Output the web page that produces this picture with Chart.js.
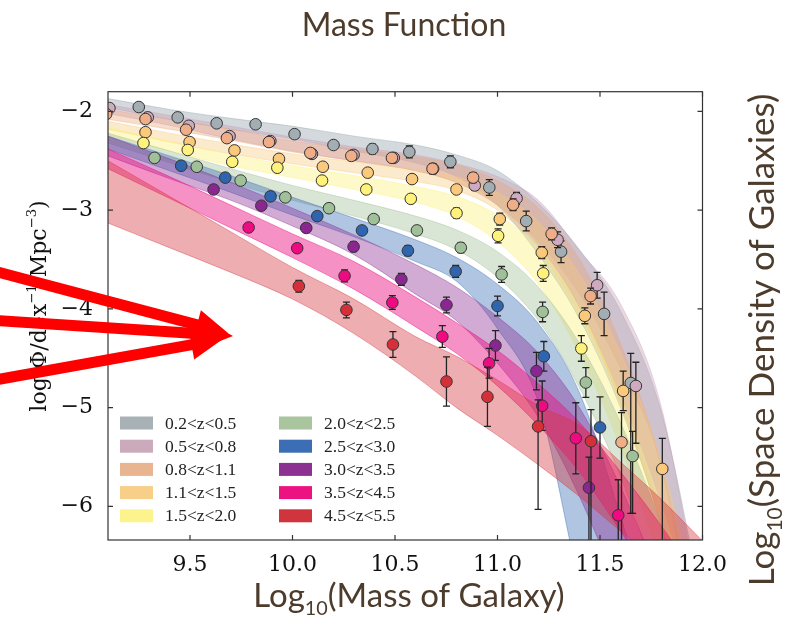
<!DOCTYPE html>
<html>
<head>
<meta charset="utf-8">
<style>
  html, body { margin: 0; padding: 0; background: #fff; }
</style>
</head>
<body>
<div style="position: relative; width:800px; height:618px">
  <canvas id="myChart" width="800" height="618"></canvas>
</div>

<script src="https://cdn.jsdelivr.net/npm/chart.js"></script>

<script>
// redshift bins, in legend order
const seriesLabels = ['0.2<z<0.5', '0.5<z<0.8', '0.8<z<1.1', '1.1<z<1.5', '1.5<z<2.0',
                      '2.0<z<2.5', '2.5<z<3.0', '3.0<z<3.5', '3.5<z<4.5', '4.5<z<5.5'];
const pointColors = ['#a3aeb4', '#d0aac0', '#efae88', '#fbc97c', '#fff27a',
                     '#9fc098', '#2f64ae', '#8b2592', '#ee0a80', '#d5303a'];
const bandColors = ['rgba(150,165,172,0.42)', 'rgba(200,160,185,0.4)', 'rgba(232,165,120,0.38)',
                    'rgba(248,200,120,0.38)', 'rgba(253,240,120,0.4)', 'rgba(160,190,150,0.4)',
                    'rgba(58,109,179,0.4)', 'rgba(140,45,147,0.4)', 'rgba(236,10,128,0.45)',
                    'rgba(212,50,58,0.4)'];
const legendColors = ['#a8b1b6', '#cbaabb', '#e9b490', '#f8cf88', '#fdf38c',
                      '#a8c59d', '#3b6eb4', '#8c3192', '#ec1282', '#d0343c'];

const xTickVals = [9.5, 10.0, 10.5, 11.0, 11.5, 12.0];
const yTickVals = [-6, -5, -4, -3, -2];

// model bands (upper / lower edge) sampled at these masses
const bandMass = [9.1, 9.4, 9.7, 10.0, 10.3, 10.6, 10.8, 11.0, 11.2, 11.4, 11.6, 11.8, 12.0];
const bandHi = [
  [-1.87, -1.98, -2.07, -2.15, -2.25, -2.34, -2.44, -2.60, -2.93, -3.40, -4.02, -5.05, -7.0],
  [-1.93, -2.04, -2.15, -2.26, -2.36, -2.44, -2.53, -2.66, -2.90, -3.41, -3.95, -5.00, -7.2],
  [-1.98, -2.08, -2.18, -2.30, -2.38, -2.46, -2.54, -2.70, -2.98, -3.50, -4.35, -5.60, -7.5],
  [-2.10, -2.22, -2.33, -2.43, -2.51, -2.59, -2.66, -2.82, -3.12, -3.65, -4.45, -5.55, -7.2],
  [-2.16, -2.30, -2.44, -2.55, -2.65, -2.76, -2.86, -3.05, -3.38, -4.00, -4.90, -6.00, -7.4],
  [-2.22, -2.40, -2.58, -2.75, -2.90, -3.06, -3.20, -3.42, -3.78, -4.35, -5.15, -6.20, -7.5],
  [-2.25, -2.45, -2.65, -2.87, -3.08, -3.30, -3.48, -3.75, -4.15, -4.85, -6.10, -7.50, -9.0],
  [-2.25, -2.48, -2.72, -2.98, -3.25, -3.55, -3.78, -4.08, -4.45, -5.00, -5.80, -6.80, -8.0],
  [-2.38, -2.66, -2.95, -3.24, -3.52, -3.88, -4.14, -4.42, -4.76, -5.15, -5.65, -6.20, -6.8],
  [-2.50, -2.86, -3.22, -3.58, -3.90, -4.28, -4.48, -4.72, -4.98, -5.18, -5.55, -5.93, -6.35]
];
const bandLo = [
  [-1.96, -2.08, -2.18, -2.28, -2.40, -2.52, -2.66, -2.95, -3.45, -4.10, -5.00, -6.20, -8.0],
  [-2.02, -2.14, -2.28, -2.40, -2.50, -2.60, -2.72, -2.95, -3.32, -3.85, -4.60, -5.60, -7.8],
  [-2.08, -2.18, -2.29, -2.41, -2.50, -2.60, -2.72, -2.95, -3.35, -3.98, -4.95, -6.20, -7.8],
  [-2.18, -2.31, -2.43, -2.53, -2.62, -2.71, -2.80, -3.00, -3.40, -4.05, -4.90, -5.95, -7.6],
  [-2.24, -2.40, -2.55, -2.67, -2.79, -2.92, -3.06, -3.32, -3.75, -4.45, -5.40, -6.60, -8.0],
  [-2.32, -2.52, -2.72, -2.90, -3.06, -3.24, -3.40, -3.68, -4.12, -4.80, -5.70, -6.90, -8.2],
  [-2.38, -2.60, -2.82, -3.05, -3.27, -3.52, -3.72, -4.20, -4.95, -6.80, -8.50, -10.0, -11.0],
  [-2.45, -2.68, -2.90, -3.16, -3.45, -3.85, -4.12, -4.55, -5.10, -5.90, -6.90, -8.00, -9.0],
  [-2.58, -2.88, -3.18, -3.48, -3.80, -4.18, -4.45, -4.78, -5.18, -5.65, -6.25, -6.90, -7.6],
  [-3.13, -3.38, -3.63, -3.90, -4.25, -4.68, -5.00, -5.28, -5.58, -5.90, -6.25, -6.60, -7.0]
];

// measured points: log mass, log phi, error up, error down
const massX = [
  [9.25, 9.44, 9.63, 9.82, 10.01, 10.20, 10.39, 10.57, 10.77, 10.96, 11.14, 11.31, 11.52, 11.65],
  [9.107, 9.294, 9.494, 9.693, 9.892, 10.095, 10.298, 10.494, 10.686, 10.889, 11.093, 11.293, 11.486, 11.675],
  [9.091, 9.283, 9.481, 9.680, 9.885, 10.087, 10.287, 10.485, 10.683, 10.881, 11.076, 11.264, 11.454, 11.605],
  [9.283, 9.498, 9.717, 9.934, 10.148, 10.367, 10.583, 10.80, 11.011, 11.216, 11.426, 11.613, 11.804],
  [9.273, 9.489, 9.706, 9.926, 10.144, 10.36, 10.577, 10.80, 11.003, 11.223, 11.409],
  [9.327, 9.533, 9.747, 9.965, 10.178, 10.396, 10.607, 10.821, 11.020, 11.22, 11.431, 11.659],
  [9.457, 9.672, 9.893, 10.121, 10.339, 10.563, 10.796, 11.0, 11.226, 11.5],
  [9.615, 9.848, 10.067, 10.298, 10.531, 10.751, 10.99, 11.19, 11.446],
  [9.786, 10.023, 10.254, 10.487, 10.731, 10.959, 11.218, 11.382, 11.589],
  [10.031, 10.263, 10.49, 10.751, 10.951, 11.198, 11.456]
];
const phiY = [
  [-1.955, -2.06, -2.12, -2.13, -2.23, -2.34, -2.38, -2.41, -2.51, -2.77, -3.11, -3.42, -4.05, -4.75],
  [-1.966, -2.06, -2.145, -2.25, -2.30, -2.43, -2.44, -2.47, -2.58, -2.75, -2.88, -3.30, -3.76, -4.78],
  [-2.026, -2.077, -2.185, -2.27, -2.31, -2.42, -2.45, -2.47, -2.58, -2.67, -2.945, -3.24, -3.87, -5.35],
  [-2.21, -2.31, -2.395, -2.48, -2.56, -2.62, -2.685, -2.79, -3.09, -3.43, -4.07, -4.83, -5.62],
  [-2.32, -2.39, -2.51, -2.57, -2.70, -2.79, -2.885, -3.03, -3.26, -3.64, -4.40],
  [-2.47, -2.56, -2.70, -2.87, -2.98, -3.09, -3.205, -3.38, -3.65, -4.03, -4.745, -5.49],
  [-2.55, -2.67, -2.86, -3.06, -3.205, -3.41, -3.62, -3.97, -4.48, -5.20],
  [-2.79, -2.955, -3.18, -3.37, -3.70, -3.96, -4.37, -4.63, -5.81],
  [-3.175, -3.385, -3.665, -3.935, -4.28, -4.55, -4.98, -5.31, -6.09],
  [-3.77, -4.01, -4.36, -4.735, -4.89, -5.19, -5.34]
];
const errUp = [
  [0.03, 0.03, 0.03, 0.03, 0.04, 0.04, 0.05, 0.06, 0.06, 0.08, 0.10, 0.11, 0.22, 0.30],
  [0.03, 0.03, 0.03, 0.03, 0.03, 0.04, 0.04, 0.04, 0.05, 0.05, 0.06, 0.08, 0.13, 0.24],
  [0.03, 0.03, 0.03, 0.03, 0.03, 0.04, 0.04, 0.04, 0.05, 0.05, 0.06, 0.06, 0.08, 0.30],
  [0.03, 0.03, 0.03, 0.03, 0.03, 0.04, 0.04, 0.04, 0.06, 0.06, 0.08, 0.20, 0.31],
  [0.03, 0.03, 0.03, 0.03, 0.03, 0.04, 0.04, 0.05, 0.07, 0.08, 0.13],
  [0.03, 0.03, 0.03, 0.03, 0.04, 0.04, 0.04, 0.05, 0.08, 0.10, 0.15, 0.25],
  [0.03, 0.03, 0.03, 0.04, 0.04, 0.05, 0.06, 0.10, 0.15, 0.31],
  [0.03, 0.04, 0.04, 0.05, 0.06, 0.08, 0.15, 0.19, 0.31],
  [0.03, 0.04, 0.06, 0.07, 0.11, 0.15, 0.25, 0.36, 0.36],
  [0.06, 0.08, 0.13, 0.25, 0.30, 0.27, 0.32]
];
const errDn = [
  [0.03, 0.03, 0.03, 0.03, 0.04, 0.04, 0.05, 0.06, 0.06, 0.08, 0.10, 0.11, 0.22, 1.32],
  [0.03, 0.03, 0.03, 0.03, 0.03, 0.04, 0.04, 0.04, 0.05, 0.05, 0.06, 0.08, 0.13, 0.58],
  [0.03, 0.03, 0.03, 0.03, 0.03, 0.04, 0.04, 0.04, 0.05, 0.05, 0.06, 0.06, 0.08, 1.30],
  [0.03, 0.03, 0.03, 0.03, 0.03, 0.04, 0.04, 0.04, 0.06, 0.06, 0.08, 0.20, 1.00],
  [0.03, 0.03, 0.03, 0.03, 0.03, 0.04, 0.04, 0.05, 0.07, 0.08, 0.13],
  [0.03, 0.03, 0.03, 0.03, 0.04, 0.04, 0.04, 0.05, 0.08, 0.10, 0.15, 0.58],
  [0.03, 0.03, 0.03, 0.04, 0.04, 0.05, 0.06, 0.10, 0.15, 0.31],
  [0.03, 0.04, 0.04, 0.05, 0.06, 0.08, 0.15, 0.19, 1.00],
  [0.03, 0.04, 0.06, 0.07, 0.11, 0.15, 0.25, 0.36, 1.00],
  [0.06, 0.08, 0.13, 0.25, 0.30, 0.84, 1.20]
];

const brown = '#4d3c2c';

// band datasets first (drawn underneath), then the measured points
var datasets = [];
seriesLabels.forEach((label, k) => {
  datasets.push({
    label: label + ' lower',
    data: bandMass.map((m, i) => ({x: m, y: bandLo[k][i]})),
    borderColor: bandColors[k], borderWidth: 1, pointRadius: 0, fill: false,
    cubicInterpolationMode: 'monotone', order: 40 - k
  });
  datasets.push({
    label: label,
    data: bandMass.map((m, i) => ({x: m, y: bandHi[k][i]})),
    borderColor: bandColors[k], borderWidth: 1, backgroundColor: bandColors[k],
    pointRadius: 0, fill: '-1', cubicInterpolationMode: 'monotone', order: 40 - k
  });
});
seriesLabels.forEach((label, k) => {
  datasets.push({
    label: label + ' data',
    data: massX[k].map((m, i) => ({x: m, y: phiY[k][i]})),
    showLine: false, pointRadius: 5.8,
    pointBackgroundColor: pointColors[k], pointBorderColor: '#333', pointBorderWidth: 1,
    order: 20 - k, errUp: errUp[k], errDn: errDn[k]
  });
});

// text with sub/superscript pieces
function partsWidth(ctx, parts, size, family) {
  let w = 0;
  parts.forEach(p => {
    ctx.font = (p.small ? size * 0.6 : size) + 'px ' + family;
    w += ctx.measureText(p.t).width;
  });
  return w;
}
function drawParts(ctx, parts, x, y, size, family) {
  parts.forEach(p => {
    ctx.font = (p.small ? size * 0.6 : size) + 'px ' + family;
    ctx.fillText(p.t, x, y + (p.shift || 0) * size);
    x += ctx.measureText(p.t).width;
  });
}

const errorBars = {
  id: 'errorBars',
  beforeDatasetDraw(chart, args) {
    const ds = chart.data.datasets[args.index];
    if (!ds.errUp) return;
    const {ctx, chartArea: a, scales: {x, y}} = chart;
    ctx.save();
    ctx.beginPath();
    ctx.rect(a.left, a.top, a.right - a.left, a.bottom - a.top);
    ctx.clip();
    ctx.strokeStyle = '#222';
    ctx.lineWidth = 1.3;
    ds.data.forEach((p, i) => {
      const px = x.getPixelForValue(p.x);
      const top = y.getPixelForValue(p.y + ds.errUp[i]);
      const bot = y.getPixelForValue(p.y - ds.errDn[i]);
      ctx.beginPath();
      ctx.moveTo(px, top); ctx.lineTo(px, bot);
      ctx.moveTo(px - 3.5, top); ctx.lineTo(px + 3.5, top);
      ctx.moveTo(px - 3.5, bot); ctx.lineTo(px + 3.5, bot);
      ctx.stroke();
    });
    ctx.restore();
  }
};

const frameAndLegend = {
  id: 'frameAndLegend',
  afterDatasetsDraw(chart) {
    const {ctx, chartArea: a, scales: {x, y}} = chart;
    ctx.save();
    ctx.strokeStyle = '#333';
    ctx.lineWidth = 1.2;
    ctx.strokeRect(a.left, a.top, a.right - a.left, a.bottom - a.top);
    ctx.beginPath();
    xTickVals.forEach(v => {
      const px = x.getPixelForValue(v);
      ctx.moveTo(px, a.bottom); ctx.lineTo(px, a.bottom - 5);
      ctx.moveTo(px, a.top); ctx.lineTo(px, a.top + 5);
    });
    yTickVals.forEach(v => {
      const py = y.getPixelForValue(v);
      ctx.moveTo(a.left, py); ctx.lineTo(a.left + 5, py);
      ctx.moveTo(a.right, py); ctx.lineTo(a.right - 5, py);
    });
    ctx.stroke();

    // legend, two columns in the lower left
    ctx.font = '17.5px "Liberation Serif"';
    ctx.textBaseline = 'middle';
    seriesLabels.forEach((label, k) => {
      const col = Math.floor(k / 5), row = k % 5;
      const lx = a.left + 12 + col * 159;
      const ly = 423 + row * 23.2;
      ctx.fillStyle = legendColors[k];
      ctx.fillRect(lx, ly - 6.5, 33, 13);
      ctx.fillStyle = '#222';
      ctx.fillText(label, lx + 45, ly + 1);
    });
    ctx.restore();
  },
  afterDraw(chart) {
    const ctx = chart.ctx;
    ctx.save();
    ctx.fillStyle = brown;
    ctx.textBaseline = 'alphabetic';
    const sans = 'Lato';

    // top title
    ctx.font = '32px ' + sans;
    ctx.textAlign = 'center';
    ctx.fillText('Mass Function', 404, 36);
    ctx.textAlign = 'left';

    // bottom title
    const xt = [{t: 'Log'}, {t: '10', small: true, shift: 0.24}, {t: '(Mass of Galaxy)'}];
    const wx = partsWidth(ctx, xt, 33, sans);
    drawParts(ctx, xt, 409 - wx / 2, 607, 33, sans);

    // right title, rotated
    const rt = [{t: 'Log'}, {t: '10', small: true, shift: 0.24}, {t: '(Space Density of Galaxies)'}];
    ctx.save();
    ctx.translate(774, 340);
    ctx.rotate(-Math.PI / 2);
    const wr = partsWidth(ctx, rt, 35, sans);
    drawParts(ctx, rt, -wr / 2, 0, 35, sans);
    ctx.restore();

    // left axis label (serif, superscripts)
    const serif = '"DejaVu Serif"';
    ctx.fillStyle = '#111';
    const lt = [{t: 'log(Φ/dex'}, {t: '−1', small: true, shift: -0.45}, {t: ' Mpc'},
                {t: '−3', small: true, shift: -0.45}, {t: ')'}];
    ctx.save();
    ctx.translate(46, 306);
    ctx.rotate(-Math.PI / 2);
    const wl = partsWidth(ctx, lt, 22, serif);
    drawParts(ctx, lt, -wl / 2, 0, 22, serif);
    ctx.restore();

    // red arrows pointing at the axis label
    const tips = [[228, 333], [233, 336], [223, 339]];
    const tails = [[-10, 270], [-10, 320], [-10, 381]];
    ctx.fillStyle = '#ff0000';
    ctx.strokeStyle = '#ff0000';
    ctx.lineWidth = 11;
    tips.forEach((tip, i) => {
      const [tx, ty] = tip, [sx, sy] = tails[i];
      const ang = Math.atan2(ty - sy, tx - sx);
      const hl = 32, hw = 15;
      const bx = tx - hl * Math.cos(ang), by = ty - hl * Math.sin(ang);
      ctx.beginPath();
      ctx.moveTo(sx, sy); ctx.lineTo(bx + 2 * Math.cos(ang), by + 2 * Math.sin(ang));
      ctx.stroke();
      ctx.beginPath();
      ctx.moveTo(tx, ty);
      ctx.lineTo(bx - hw * Math.sin(ang), by + hw * Math.cos(ang));
      ctx.lineTo(bx + hw * Math.sin(ang), by - hw * Math.cos(ang));
      ctx.closePath();
      ctx.fill();
    });
    ctx.restore();
  }
};

const ctx = document.getElementById('myChart');
new Chart(ctx, {
  type: 'line',
  data: { datasets: datasets },
  options: {
    responsive: false,
    animation: false,
    layout: { padding: { top: 91.7, right: 97.5, left: 0, bottom: 0 } },
    plugins: { legend: { display: false }, tooltip: { enabled: false } },
    scales: {
      x: {
        type: 'linear', min: 9.1, max: 12.0,
        grid: { display: false }, border: { display: false },
        afterBuildTicks: s => { s.ticks = xTickVals.map(v => ({value: v})); },
        afterFit: s => { s.height = 78; },
        ticks: {
          color: '#111', padding: 4, maxRotation: 0, autoSkip: false,
          font: { family: 'DejaVu Serif', size: 22 },
          callback: v => v.toFixed(1)
        }
      },
      y: {
        type: 'linear', min: -6.34, max: -1.8,
        grid: { display: false }, border: { display: false },
        afterBuildTicks: s => { s.ticks = yTickVals.map(v => ({value: v})); },
        afterFit: s => { s.width = 108; },
        ticks: {
          color: '#111', padding: 7, autoSkip: false,
          font: { family: 'DejaVu Serif', size: 22 },
          callback: v => '\u2212' + Math.abs(v)
        }
      }
    }
  },
  plugins: [errorBars, frameAndLegend]
});
</script>
</body>
</html>
